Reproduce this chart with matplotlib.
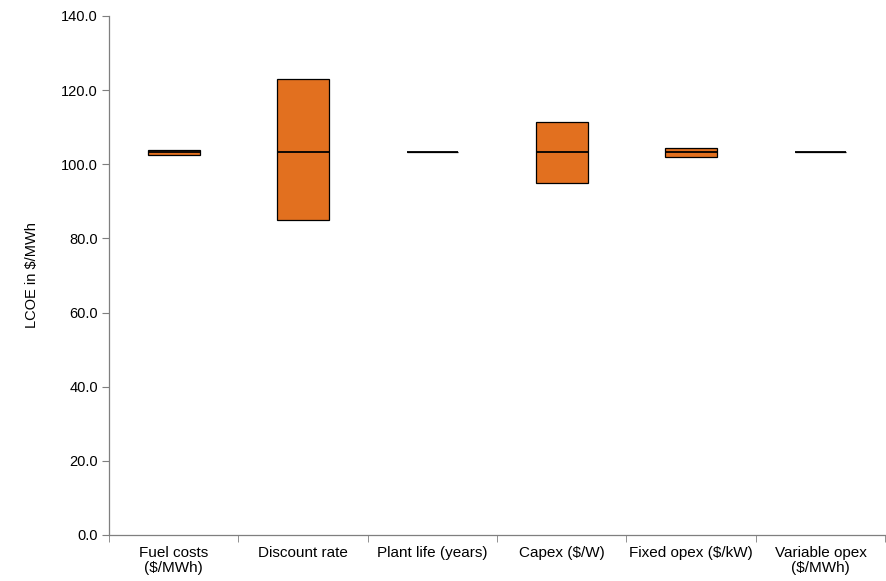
import matplotlib
matplotlib.use("Agg")
import matplotlib.pyplot as plt
import numpy as np

plt.rcParams["font.family"] = ["Liberation Sans", "DejaVu Sans"]

categories = ["Fuel costs\n($/MWh)", "Discount rate", "Plant life (years)",
              "Capex ($/W)", "Fixed opex ($/kW)", "Variable opex\n($/MWh)"]
low = [102.5, 85.0, 103.2, 95.0, 102.0, 103.2]
high = [103.9, 123.0, 103.2, 111.4, 104.4, 103.2]
base = 103.2

fig = plt.figure(figsize=(8.87, 5.81), dpi=100)
ax = fig.add_axes([0.1229, 0.0792, 0.875, 0.8933])

x = np.arange(len(categories))
heights = np.array(high) - np.array(low)
ax.bar(x, heights, bottom=low, width=0.4, color="#E2701F", edgecolor="black", linewidth=0.9)
ax.hlines([base] * len(x), x - 0.2, x + 0.2, color="black", linewidth=1.3)

ax.set_xlim(-0.5, len(categories) - 0.5)
ax.set_ylim(0, 140)
ax.set_yticks(np.arange(0, 141, 20))
ax.set_yticklabels([f"{v:.1f}" for v in np.arange(0, 141, 20)])
ax.set_xticks(x)
ax.set_xticklabels(categories, fontsize=11, linespacing=1.05)
ax.tick_params(axis="x", which="major", length=0, pad=8)
ax.set_xticks(np.arange(-0.5, len(categories)), minor=True)
ax.tick_params(axis="x", which="minor", length=5, color="#7f7f7f", direction="out")
ax.tick_params(axis="y", length=5, color="#7f7f7f", pad=3, labelsize=10.5)
ax.set_ylabel("LCOE in $/MWh", fontsize=10.5, labelpad=16)

for s in ["top", "right"]:
    ax.spines[s].set_visible(False)
for s in ["left", "bottom"]:
    ax.spines[s].set_color("#7f7f7f")
    ax.spines[s].set_linewidth(0.9)

fig.savefig("out.png", dpi=100)
